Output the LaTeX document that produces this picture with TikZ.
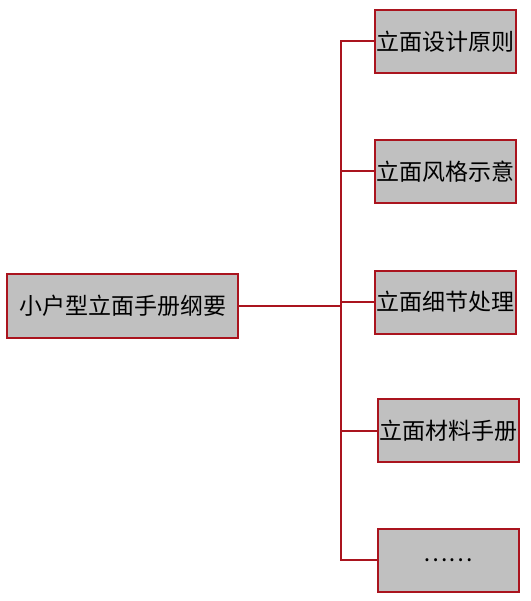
\documentclass[tikz,border=0pt]{standalone}
\usepackage{fontspec}
\setmainfont{Noto Sans CJK SC}
\definecolor{linkred}{RGB}{170,20,30}
\definecolor{boxgray}{RGB}{192,192,192}
\begin{document}
\begin{tikzpicture}[x=1pt, y=-1pt,
  every path/.style={draw=linkred, line width=2pt},
  topic/.style={draw=linkred, fill=boxgray, rectangle, inner sep=0pt,
    minimum width=141pt, minimum height=63pt, font={\fontsize{23}{26}\selectfont}},
  root/.style={topic, minimum width=231pt, minimum height=64pt}]
\useasboundingbox[draw=none] (0,0) rectangle (530,601);
\node[root] (outline) at (122.5,306) {小户型立面手册纲要};
\node[topic] (principle) at (445.5,41.5) {立面设计原则};
\node[topic] (style) at (445.5,171.5) {立面风格示意};
\node[topic] (detail) at (445.5,302) {立面细节处理};
\node[topic] (material) at (448,430.5) {立面材料手册};
\node[topic] (more) at (448,560) {……};
\coordinate (fork) at (341,306);
\path (outline) -- (fork);
\path (fork) |- (principle);
\path (fork) |- (style);
\path (fork) |- (detail);
\path (fork) |- (material);
\path (fork) |- (more);
\end{tikzpicture}
\end{document}
